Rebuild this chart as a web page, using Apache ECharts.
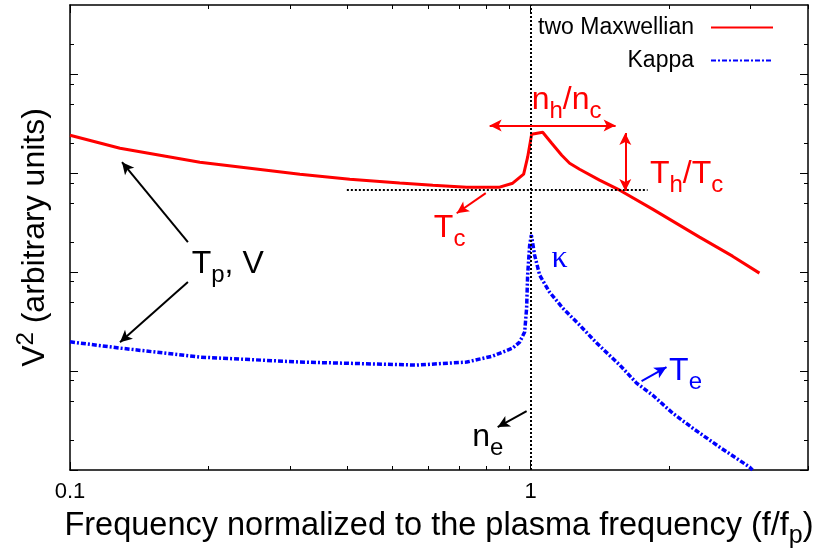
<!DOCTYPE html>
<html>
<head>
<meta charset="utf-8">
<script src="https://cdn.jsdelivr.net/npm/echarts@6/dist/echarts.min.js"></script>
<style>
html, body { margin: 0; padding: 0; background: #fff; }
#chart { width: 816px; height: 557px; }
</style>
</head>
<body>
<div id="chart"></div>
<script>
// frequency (f/fp) and V^2 (arbitrary units)
var twoMaxX = [0.1, 0.1284, 0.1914, 0.2458, 0.3155, 0.4049, 0.5197, 0.6131, 0.7264, 0.8566, 0.9142, 0.9656, 0.985, 1.005, 1.062, 1.111, 1.168, 1.215, 1.277, 1.411, 1.561, 1.839, 2.326, 2.743, 3.138];
var twoMaxY = [2421, 1788, 1291, 1123, 977, 869, 798, 756, 722, 722, 792, 977, 1452, 2477, 2594, 2010, 1520, 1262, 1097, 850, 673, 433, 226, 145, 97.7];

var kappaX = [0.1, 0.1284, 0.1914, 0.3155, 0.5658, 0.7264, 0.8272, 0.9142, 0.9465, 0.9705, 0.980, 0.985, 0.995, 1.0035, 1.020, 1.046, 1.099, 1.174, 1.277, 1.391, 1.561, 1.698, 1.839, 2.032, 2.246, 2.570, 2.985, 3.031];
var kappaY = [19.77, 17.07, 13.85, 12.33, 11.5, 12.33, 14.17, 17.07, 19.63, 24.8, 43.3, 93.3, 187.5, 236.5, 148.5, 93.3, 62.8, 43.3, 29.15, 19.18, 11.5, 7.56, 5.72, 3.766, 2.657, 1.707, 1.072, 1.0];

var seriesNames = ['two Maxwellian', 'Kappa'];

// axis ticks
var xLabels = [0.1, 1];
var xMajor = [0.1, 1];
var xMinor = [0.2, 0.3, 0.4, 0.5, 0.6, 0.7, 0.8, 0.9, 2, 3, 4];
var yMajor = [1, 10, 100, 1000, 10000];
var yMinor = [2, 5, 8, 20, 50, 80, 200, 500, 800, 2000, 5000, 8000, 20000];

var FONT = 'Liberation Sans';

function pairs(xs, ys) {
    var out = [];
    for (var i = 0; i < xs.length; i++) out.push([xs[i], ys[i]]);
    return out;
}

function xAx(pos, ticks, len, withLine, labels) {
    return {
        type: 'log', min: 0.1, max: 4, position: pos,
        axisLine: { show: withLine, lineStyle: { color: '#000', width: 1.5 } },
        axisTick: { show: true, inside: true, length: len, customValues: ticks, lineStyle: { color: '#000', width: 1 } },
        axisLabel: labels ? {
            show: true, margin: 11, color: '#000', fontSize: 22, fontFamily: FONT,
            showMaxLabel: false,
            formatter: function (v) {
                var n = +Number(v).toPrecision(3);
                return labels.indexOf(n) >= 0 ? String(n) : '';
            }
        } : { show: false },
        splitLine: { show: false }
    };
}

function yAx(pos, ticks, len, withLine) {
    return {
        type: 'log', min: 1, max: 50119, position: pos,
        axisLine: { show: withLine, lineStyle: { color: '#000', width: 1.5 } },
        axisTick: { show: true, inside: true, length: len, customValues: ticks, lineStyle: { color: '#000', width: 1 } },
        axisLabel: { show: false },
        splitLine: { show: false }
    };
}

var bigRich = {
    b: { fontSize: 32, fontFamily: FONT },
    s: { fontSize: 24, fontFamily: FONT, padding: [22, 0, 0, 0] },
    g: { fontSize: 32, fontFamily: 'Liberation Serif' }
};

function note(x, y, text, color) {
    return {
        coord: [x, y],
        label: { show: true, position: 'inside', formatter: text, color: color, rich: bigRich }
    };
}

function arrow(a, b, color, both) {
    return [
        { coord: a, symbol: both ? 'arrow' : 'none', symbolSize: [9, 12], lineStyle: { color: color, width: 2, type: 'solid' } },
        { coord: b, symbol: 'arrow', symbolSize: [9, 12] }
    ];
}

var chart = echarts.init(document.getElementById('chart'));

var xAxes = [xAx('bottom', xMajor, 8, true, xLabels), xAx('bottom', xMinor, 4, false), xAx('top', xMajor, 8, true), xAx('top', xMinor, 4, false)];
xAxes[0].name = 'Frequency normalized to the plasma frequency (f/f{s|p})';
xAxes[0].nameLocation = 'middle';
xAxes[0].nameGap = 34;
xAxes[0].nameTextStyle = {
    color: '#000', fontSize: 32.5, fontFamily: FONT,
    rich: { s: { fontSize: 25, fontFamily: FONT, color: '#000', padding: [20, 0, 0, 0] } }
};

var yAxes = [yAx('left', yMajor, 8, true), yAx('left', yMinor, 4, false), yAx('right', yMajor, 8, true), yAx('right', yMinor, 4, false)];
yAxes[0].name = 'V{p|2} (arbitrary units)';
yAxes[0].nameLocation = 'middle';
yAxes[0].nameGap = 14;
yAxes[0].nameTextStyle = {
    color: '#000', fontSize: 32, fontFamily: FONT,
    rich: { p: { fontSize: 24, fontFamily: FONT, color: '#000', padding: [0, 0, 18, 0] } }
};

var option = {
    animation: false,
    backgroundColor: '#fff',
    grid: { left: 70, right: 8, top: 5, bottom: 87, outerBoundsMode: 'none', containLabel: false },
    legend: {
        data: seriesNames,
        orient: 'vertical',
        right: 37,
        top: 11,
        align: 'right',
        itemWidth: 62,
        itemHeight: 14,
        itemGap: 10,
        itemStyle: { color: 'transparent', borderWidth: 0, opacity: 0 },
        textStyle: { color: '#000', fontSize: 23, fontFamily: FONT, padding: [0, 12, 0, 0] }
    },
    xAxis: xAxes,
    yAxis: yAxes,
    series: [
        {
            name: seriesNames[0], type: 'line', data: pairs(twoMaxX, twoMaxY),
            showSymbol: false, symbol: 'none', color: '#ff0000',
            lineStyle: { color: '#ff0000', width: 3 }
        },
        {
            name: seriesNames[1], type: 'line', data: pairs(kappaX, kappaY),
            showSymbol: false, symbol: 'none', color: '#0000ff',
            lineStyle: { color: '#0000ff', width: 3.5, type: [5, 2, 2, 2] }
        },
        {
            name: 'notes', type: 'line', data: [], silent: true,
            markLine: {
                silent: true, animation: false,
                label: { show: false },
                data: [
                    [{ coord: [1, 1], symbol: 'none', lineStyle: { color: '#000', width: 2, type: [2, 2] } }, { coord: [1, 50119], symbol: 'none' }],
                    [{ coord: [0.399, 681], symbol: 'none', lineStyle: { color: '#000', width: 2, type: [2, 2] } }, { coord: [1.794, 681], symbol: 'none' }],
                    arrow([0.8147, 3033], [1.529, 3033], '#ff0000', true),
                    arrow([1.605, 2554], [1.605, 662.5], '#ff0000', true),
                    arrow([0.799, 628], [0.691, 394], '#ff0000', false),
                    arrow([0.1803, 201], [0.1297, 1291], '#000', false),
                    arrow([0.1803, 79.3], [0.1284, 19.6], '#000', false),
                    arrow([0.980, 3.94], [0.848, 2.72], '#000', false),
                    arrow([1.741, 7.92], [1.972, 10.97], '#0000ff', false)
                ]
            },
            markPoint: {
                silent: true, animation: false,
                symbol: 'circle', symbolSize: 1,
                itemStyle: { color: 'transparent' },
                data: [
                    note(1.197, 5464, '{b|n}{s|h}{b|/n}{s|c}', '#ff0000'),
                    note(2.18, 977, '{b|T}{s|h}{b|/T}{s|c}', '#ff0000'),
                    note(0.667, 278, '{b|T}{s|c}', '#ff0000'),
                    note(1.156, 138.5, '{g|κ}', '#0000ff'),
                    note(0.22, 120.4, '{b|T}{s|p}{b|, V}', '#000'),
                    note(0.807, 2.155, '{b|n}{s|e}', '#000'),
                    note(2.169, 10, '{b|T}{s|e}', '#0000ff')
                ]
            }
        }
    ]
};

chart.setOption(option);
</script>
</body>
</html>
